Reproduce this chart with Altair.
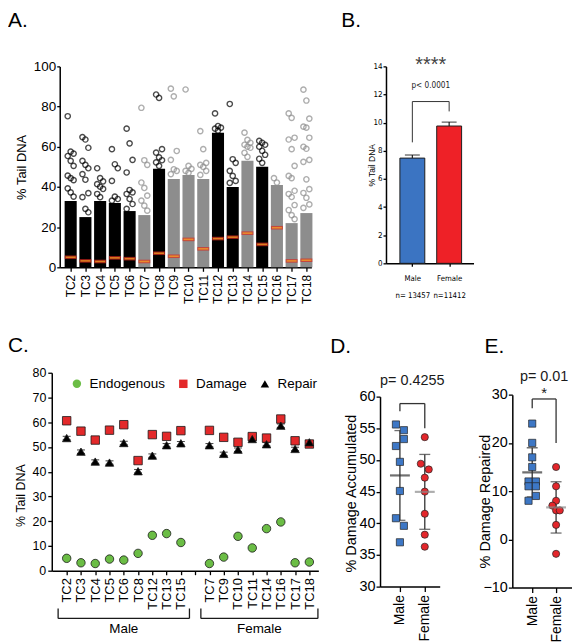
import json
import altair as alt
import pandas as pd

FONT = "Liberation Sans, Arial, sans-serif"
NARROW = "Liberation Sans Narrow, Arial Narrow, DejaVu Sans Condensed, Liberation Sans, sans-serif"

# ---------------- data ----------------
tc_names = ["TC2", "TC3", "TC4", "TC5", "TC6", "TC7", "TC8", "TC9", "TC10",
            "TC11", "TC12", "TC13", "TC14", "TC15", "TC16", "TC17", "TC18"]
tc_sex = ["Male", "Male", "Male", "Male", "Male", "Female", "Male", "Female", "Female",
          "Female", "Male", "Male", "Female", "Male", "Female", "Female", "Female"]
# upper edge of the dense (solid) cloud of comet scores per animal
tc_core = [33, 25, 33, 32, 28, 26, 49, 44, 46, 44, 67, 40, 53, 50, 41, 22, 27]
# individual scores visible above the dense cloud
tc_sparse = {
    "TC2": [75.2, 57.6, 56.6, 55.4, 53, 50.5, 45.6, 44.4, 43.4, 39.3, 37.3, 35.2],
    "TC3": [64.8, 63.6, 59.5, 53, 51, 49.3, 46.4, 43.6, 36.9, 34.9, 29.1, 27.4],
    "TC4": [49.3, 44.4, 42.8, 41.4, 40.1, 39, 36.5, 34.9],
    "TC5": [58.8, 51.3, 49.3, 43, 35.2, 34, 33.2],
    "TC6": [69, 61.7, 53.5, 47.2, 38.5, 37.3, 36.5, 34, 31.5, 29.1],
    "TC7": [79.4, 53.3, 51, 42.2, 39.5, 35.7, 33.2, 30.7, 28.2],
    "TC8": [86, 84.3, 58.8, 57.1, 54.7, 53.3, 52.2, 50.5],
    "TC9": [88.9, 85.1, 57.9, 53.5, 48.8, 48, 46.4],
    "TC10": [88.5, 50.5, 49, 48, 47],
    "TC11": [67.8, 58.8, 52, 51, 50, 48, 46],
    "TC12": [76.6, 70.3, 69.5, 69, 68],
    "TC13": [81.3, 53.8, 52, 48, 45.5, 43, 42],
    "TC14": [67, 63.4, 62, 61, 60, 59.5, 57, 55],
    "TC15": [62.9, 62, 61, 60, 58, 56, 54, 52],
    "TC16": [44.4, 42.2],
    "TC17": [76.6, 74.4, 64.5, 63.6, 58.8, 50.5, 45.5, 44.4, 38.1, 36.5, 35, 31, 28.5, 26, 24],
    "TC18": [88.4, 83, 74, 70, 69.5, 64.5, 60, 59, 53.5, 52.5, 43.8, 38.9, 37, 34.6, 31.3, 29.6],
}

male_tc = ["TC2", "TC3", "TC4", "TC5", "TC6", "TC8", "TC12", "TC13", "TC15"]
female_tc = ["TC7", "TC9", "TC10", "TC11", "TC14", "TC16", "TC17", "TC18"]
endo_m = [5.0, 3.2, 2.9, 4.7, 4.3, 7.0, 14.3, 15.0, 11.4]
dmg_m = [60.6, 56.4, 52.8, 56.8, 59.0, 44.5, 55.0, 54.3, 56.6]
rep_m = [53.6, 48.1, 44.1, 43.7, 51.6, 40.2, 46.5, 50.7, 51.5]
rep_err_m = [0.7, 0.7, 0.7, 0.7, 0.7, 0.7, 0.7, 0.7, 0.7]
endo_f = [2.9, 5.5, 13.9, 9.2, 17.0, 19.7, 3.2, 3.5]
dmg_f = [56.7, 53.9, 51.9, 54.2, 53.6, 61.3, 52.5, 51.2]
rep_f = [50.7, 47.2, 48.9, 53.2, 51.1, 58.6, 49.2, 51.9]
rep_err_f = [0.7, 0.7, 0.7, 0.7, 0.7, 0.7, 0.7, 0.7]
series = ["Endogenous", "Damage", "Repair"]

b_groups = ["Male", "Female"]
b_n = ["n= 13457", "n=11412"]
b_mean = [7.48, 9.76]
b_err = [0.22, 0.28]
b_bracket = [8.6, 11.5, 10.8]   # left foot, top, right foot
b_p = "p< 0.0001"
b_stars = "****"

acc_m = [55.6, 54.7, 53.3, 52.2, 49.7, 45.1, 40.8, 39.6, 37.0]
acc_m_j = [-1, 1, 1, -1, 0, 0, -1, 1, 0]
acc_f = [53.6, 49.4, 48.5, 47.2, 45.0, 41.5, 38.2, 36.3]
acc_f_j = [0, -1, 1, 0, 0, 0, 0, 0]
d_bracket = [57.7, 58.9, 55.0]
d_p = "p= 0.4255"

rpd_m = [24, 20, 17, 15, 12, 12, 11, 11, 9, 8]
rpd_m_j = [0, 0, 0, 0, -1, 1, -1, 1, 1, -1]
rpd_f = [15, 11, 8, 7, 6, 6, 3, -3]
rpd_f_j = [0, 0, 0, -1, 0, 1, 0, 0]
e_bracket = [27.2, 29.1, 20.0]
e_p = "p= 0.01"
e_star = "*"

# ---------------- helpers ----------------
def letter(t, x, y):
    return alt.Chart(pd.DataFrame({"t": [t]})).mark_text(
        align="left", baseline="top", font=FONT, fontSize=21, color="black"
    ).encode(text="t:N", x=alt.value(x), y=alt.value(y))


def bracket_df(x0, x1, feet):
    lb, top, rb = feet
    return pd.DataFrame({"x": [x0, x0, x1], "x2": [x0, x1, x1],
                         "y": [lb, top, top], "y2": [top, top, rb]})


# ---------------- panel A ----------------
endo_by = dict(zip(male_tc + female_tc, endo_m + endo_f))
sex_col_a = {"Male": "#000000", "Female": "#8d8d8d"}
df_a = pd.DataFrame({"idx": list(range(len(tc_names))), "name": tc_names, "sex": tc_sex,
                     "core": tc_core, "mean": [endo_by[n] for n in tc_names]})
df_a["lo"] = df_a["idx"] - 0.41
df_a["hi"] = df_a["idx"] + 0.41
df_a["col"] = df_a["sex"].map(sex_col_a)
rows = []
for i, n in enumerate(tc_names):
    for k, v in enumerate(tc_sparse[n]):
        rows.append({"x": i + ((k % 3) - 1) * 0.2, "v": v, "col": sex_col_a[tc_sex[i]]})
df_ap = pd.DataFrame(rows)

xA = alt.Scale(domain=[-0.743, 16.34], range=[8, 261], nice=False, zero=False)
yA = alt.Scale(domain=[0, 100], nice=False)
axAx = alt.Axis(values=list(range(len(tc_names))), labelExpr=json.dumps(tc_names) + "[datum.value]",
                labelAngle=270, labelFontSize=12, labelPadding=3, tickSize=4, title=None)
axAy = alt.Axis(values=[0, 20, 40, 60, 80, 100], labelFontSize=13.5, tickSize=3, labelPadding=1,
                offset=-8, title="% Tail DNA", titleFontSize=13, titleX=-31)

a_bars = alt.Chart(df_a).mark_rect().encode(
    x=alt.X("lo:Q", scale=xA, axis=axAx), x2="hi:Q",
    y=alt.Y("core:Q", scale=yA, axis=axAy), y2=alt.datum(0),
    fill=alt.Fill("col:N", scale=None))
a_pts = alt.Chart(df_ap).mark_point(shape="circle", filled=False, size=28, strokeWidth=1.4).encode(
    x=alt.X("x:Q", scale=xA, axis=axAx), y=alt.Y("v:Q", scale=yA, axis=axAy),
    stroke=alt.Stroke("col:N", scale=None))
a_mr = alt.Chart(df_a).mark_tick(orient="horizontal", size=12, thickness=3.6, color="#d8281e").encode(
    x=alt.X("idx:Q", scale=xA, axis=axAx), y=alt.Y("mean:Q", scale=yA, axis=axAy))
a_mo = alt.Chart(df_a).mark_tick(orient="horizontal", size=10, thickness=1.6, color="#f9a825").encode(
    x=alt.X("idx:Q", scale=xA, axis=axAx), y=alt.Y("mean:Q", scale=yA, axis=axAy))
A = alt.layer(a_bars, a_pts, a_mr, a_mo, letter("A.", -44, -56.5)).properties(width=261, height=202)

# ---------------- panel B ----------------
b_cols = {"Male": "#3b74c2", "Female": "#ee2127"}
df_b = pd.DataFrame({"i": [0, 1], "g": b_groups, "m": b_mean, "e": b_err})
df_b["lo"] = df_b["i"] - 0.338
df_b["hi"] = df_b["i"] + 0.338
df_b["top"] = df_b["m"] + df_b["e"]
df_b["col"] = df_b["g"].map(b_cols)
xB = alt.Scale(domain=[-0.716, 1.662], range=[6, 94], nice=False, zero=False)
yB = alt.Scale(domain=[0, 14], nice=False)
axBx = alt.Axis(values=[0, 1],
                labelExpr="[" + json.dumps(b_groups) + "[datum.value], " + json.dumps(b_n) + "[datum.value]]",
                labelFont=NARROW, labelFontSize=7.8, labelLineHeight=17, labelPadding=8, tickSize=3,
                labelAngle=0, title=None)
axBy = alt.Axis(values=list(range(0, 15, 2)), labelFont=NARROW, labelFontSize=8, tickSize=3,
                labelPadding=1, offset=-6, title="% Tail DNA", titleFontSize=8.5, titleX=-10)
b_mid = (df_b["i"].iloc[0] + df_b["i"].iloc[1]) / 2

b_bars = alt.Chart(df_b).mark_rect(stroke="#1e1e1e", strokeWidth=1).encode(
    x=alt.X("lo:Q", scale=xB, axis=axBx), x2="hi:Q",
    y=alt.Y("m:Q", scale=yB, axis=axBy), y2=alt.datum(0), fill=alt.Fill("col:N", scale=None))
b_err = alt.Chart(df_b).mark_rule(color="#1e1e1e", strokeWidth=1.2).encode(
    x=alt.X("i:Q", scale=xB, axis=axBx), y=alt.Y("m:Q", scale=yB, axis=axBy), y2="top:Q")
b_cap = alt.Chart(df_b).mark_tick(orient="horizontal", size=15, thickness=1.3, color="#1e1e1e").encode(
    x=alt.X("i:Q", scale=xB, axis=axBx), y=alt.Y("top:Q", scale=yB, axis=axBy))
b_br = alt.Chart(bracket_df(0, 1, b_bracket)).mark_rule(color="#333333", strokeWidth=1).encode(
    x=alt.X("x:Q", scale=xB, axis=axBx), x2="x2:Q", y=alt.Y("y:Q", scale=yB, axis=axBy), y2="y2:Q")
b_txt = alt.Chart(pd.DataFrame({"x": [b_mid], "y": [12.6], "t": [b_p]})).mark_text(
    font=NARROW, fontSize=8.2, baseline="middle", color="#222").encode(
    x=alt.X("x:Q", scale=xB, axis=axBx), y=alt.Y("y:Q", scale=yB, axis=axBy), text="t:N")
b_st = alt.Chart(pd.DataFrame({"x": [b_mid], "y": [14.1], "t": [b_stars]})).mark_text(
    font=FONT, fontSize=20, baseline="middle", color="#444").encode(
    x=alt.X("x:Q", scale=xB, axis=axBx), y=alt.Y("y:Q", scale=yB, axis=axBy), text="t:N")
B = alt.layer(b_bars, b_err, b_cap, b_br, b_txt, b_st, letter("B.", -39, -56.5)).properties(width=71, height=198)

# ---------------- panel C ----------------
c_idx = list(range(len(male_tc))) + [len(male_tc) + 1 + i for i in range(len(female_tc))]
c_tick_labels = male_tc + [""] + female_tc
rows = []
for vals, s in ((endo_m + endo_f, "Endogenous"), (dmg_m + dmg_f, "Damage"), (rep_m + rep_f, "Repair")):
    for x, v in zip(c_idx, vals):
        rows.append({"x": x, "v": v, "s": s})
df_c = pd.DataFrame(rows)
df_ce = pd.DataFrame({"x": c_idx, "r": rep_m + rep_f, "e": rep_err_m + rep_err_f})
df_ce["lo"] = df_ce["r"] - df_ce["e"]
df_ce["hi"] = df_ce["r"] + df_ce["e"]

xC = alt.Scale(domain=[-1.045, 17.63], nice=False, zero=False)
yC = alt.Scale(domain=[0, 80], nice=False)
axCx = alt.Axis(values=list(range(len(c_tick_labels))), labelExpr=json.dumps(c_tick_labels) + "[datum.value]",
                labelAngle=270, labelFontSize=13, labelPadding=3, tickSize=4, title=None)
axCy = alt.Axis(values=list(range(0, 81, 10)), labelFontSize=12.5, tickSize=4, labelPadding=2,
                title="% Tail DNA", titleFontSize=12.5, titleX=-24, titleY=123)
c_legend = alt.Legend(orient="none", legendX=18.5, legendY=4, direction="horizontal",
                      title=None, labelFontSize=13.5, labelFont=FONT, symbolSize=72,
                      symbolStrokeColor="#1a1a1a", symbolStrokeWidth=0.8,
                      labelOffset=6, columnPadding=11, padding=0)

c_caps_lo = alt.Chart(df_ce).mark_tick(orient="horizontal", size=8, thickness=1.1, color="black").encode(
    x=alt.X("x:Q", scale=xC, axis=axCx), y=alt.Y("lo:Q", scale=yC, axis=axCy))
c_caps_hi = alt.Chart(df_ce).mark_tick(orient="horizontal", size=8, thickness=1.1, color="black").encode(
    x=alt.X("x:Q", scale=xC, axis=axCx), y=alt.Y("hi:Q", scale=yC, axis=axCy))
c_pts = alt.Chart(df_c).mark_point(filled=True, size=72, stroke="#1a1a1a", strokeWidth=0.8, opacity=1).encode(
    x=alt.X("x:Q", scale=xC, axis=axCx), y=alt.Y("v:Q", scale=yC, axis=axCy),
    fill=alt.Fill("s:N", scale=alt.Scale(domain=series, range=["#6bbd45", "#e3292a", "#000000"]),
                  legend=c_legend),
    shape=alt.Shape("s:N", scale=alt.Scale(domain=series, range=["circle", "square", "triangle-up"]),
                    legend=c_legend))
grp_df = pd.DataFrame({"g": ["Male", "Female"],
                       "x": [c_idx[0] - 0.6, c_idx[len(male_tc)] - 0.6],
                       "x2": [c_idx[len(male_tc) - 1] + 0.6, c_idx[-1] + 0.6]})
grp_df["cx"] = (grp_df["x"] + grp_df["x2"]) / 2
c_brh = alt.Chart(grp_df).mark_rule(color="#1a1a1a", strokeWidth=1.3).encode(
    x=alt.X("x:Q", scale=xC, axis=axCx), x2="x2:Q", y=alt.value(247))
c_brl = alt.Chart(grp_df).mark_rule(color="#1a1a1a", strokeWidth=1.3).encode(
    x=alt.X("x:Q", scale=xC, axis=axCx), y=alt.value(237), y2=alt.value(247))
c_brr = alt.Chart(grp_df).mark_rule(color="#1a1a1a", strokeWidth=1.3).encode(
    x=alt.X("x2:Q", scale=xC, axis=axCx), y=alt.value(237), y2=alt.value(247))
c_grt = alt.Chart(grp_df).mark_text(font=FONT, fontSize=13.5, baseline="middle", color="black").encode(
    x=alt.X("cx:Q", scale=xC, axis=axCx), y=alt.value(258), text="g:N")
C = alt.layer(c_caps_lo, c_caps_hi, c_pts, c_brh, c_brl, c_brr, c_grt,
              letter("C.", -44, -37.5)).properties(width=268, height=199)


# ---------------- panels D and E ----------------
def dot_panel(mv, mj, fv, fj, ydom, yvals, H, top, W, xdom, ytitle, tx, ty, feet, ptxt, p_y,
              star_y, let, let_x, jit):
    groups = ["Male", "Female"]
    fills = {"Male": "#3d77c5", "Female": "#e3262b"}
    shapes = {"Male": "square", "Female": "circle"}
    mcol = {"Male": "#333333", "Female": "#8a8a8a"}
    df = pd.DataFrame({"g": ["Male"] * len(mv) + ["Female"] * len(fv), "v": mv + fv, "j": mj + fj})
    df["grp"] = df["g"].map({"Male": 0, "Female": 1})
    df["x"] = df["grp"] + df["j"] * jit
    df["fill"] = df["g"].map(fills)
    df["shp"] = df["g"].map(shapes)
    df["mc"] = df["g"].map(mcol)
    xs = alt.Scale(domain=xdom, range=[0, 60], nice=False, zero=False)
    ys = alt.Scale(domain=ydom, range=[H, top], nice=False, zero=False)
    axx = alt.Axis(values=[0, 1], labelExpr=json.dumps(groups) + "[datum.value]", labelAngle=270,
                   labelFontSize=14, labelPadding=3, tickSize=5, title=None)
    axy = alt.Axis(values=yvals, labelFontSize=14.5, tickSize=4, labelPadding=1, title=ytitle,
                   titleFontSize=14.5, titleX=tx, titleY=ty)
    base = alt.Chart(df)
    agg = base.transform_aggregate(mu="mean(v)", sd="stdev(v)", groupby=["grp", "mc"]).transform_calculate(
        lo="datum.mu - datum.sd", hi="datum.mu + datum.sd")
    sd_rule = agg.mark_rule(color="#333333", strokeWidth=1.3).encode(
        x=alt.X("grp:Q", scale=xs, axis=axx), y=alt.Y("lo:Q", scale=ys, axis=axy), y2="hi:Q")
    sd_lo = agg.mark_tick(orient="horizontal", size=11, thickness=1.3, color="#333333").encode(
        x=alt.X("grp:Q", scale=xs, axis=axx), y=alt.Y("lo:Q", scale=ys, axis=axy))
    sd_hi = agg.mark_tick(orient="horizontal", size=11, thickness=1.3, color="#333333").encode(
        x=alt.X("grp:Q", scale=xs, axis=axx), y=alt.Y("hi:Q", scale=ys, axis=axy))
    pts = base.mark_point(filled=True, size=52, stroke="#222222", strokeWidth=0.7, opacity=1).encode(
        x=alt.X("x:Q", scale=xs, axis=axx), y=alt.Y("v:Q", scale=ys, axis=axy),
        fill=alt.Fill("fill:N", scale=None), shape=alt.Shape("shp:N", scale=None))
    mline = agg.mark_tick(orient="horizontal", size=20, thickness=2.2).encode(
        x=alt.X("grp:Q", scale=xs, axis=axx), y=alt.Y("mu:Q", scale=ys, axis=axy),
        color=alt.Color("mc:N", scale=None))
    br = alt.Chart(bracket_df(0, 1, feet)).mark_rule(color="#333333", strokeWidth=1.3).encode(
        x=alt.X("x:Q", scale=xs, axis=axx), x2="x2:Q", y=alt.Y("y:Q", scale=ys, axis=axy), y2="y2:Q")
    layers = [sd_rule, sd_lo, sd_hi, pts, mline, br]
    layers.append(alt.Chart(pd.DataFrame({"x": [0.5], "y": [p_y], "t": [ptxt]})).mark_text(
        font=FONT, fontSize=14.5, baseline="middle", color="#1a1a1a").encode(
        x=alt.X("x:Q", scale=xs, axis=axx), y=alt.Y("y:Q", scale=ys, axis=axy), text="t:N"))
    if star_y is not None:
        layers.append(alt.Chart(pd.DataFrame({"x": [0.5], "y": [star_y[0]], "t": [star_y[1]]})).mark_text(
            font=FONT, fontSize=15, baseline="middle", color="#1a1a1a").encode(
            x=alt.X("x:Q", scale=xs, axis=axx), y=alt.Y("y:Q", scale=ys, axis=axy), text="t:N"))
    layers.append(letter(let, let_x, -36.5))
    return alt.layer(*layers).properties(width=W, height=H)


D = dot_panel(acc_m, acc_m_j, acc_f, acc_f_j, [30, 60], [30, 35, 40, 45, 50, 55, 60], 215, 24, 71,
              [-0.8, 1.6], "% Damage Accumulated", -22, 121, d_bracket, d_p, 62.4, None, "D.", -50, 0.16)
E = dot_panel(rpd_m, rpd_m_j, rpd_f, rpd_f_j, [-10, 30], [-10, 0, 10, 20, 30], 216, 22, 60,
              [-0.8333, 1.6667], "% Damage Repaired", -20, 129, e_bracket, e_p, 33.7, (30.3, e_star),
              "E.", -28, 0.155)

blank = alt.Chart(pd.DataFrame({"a": [0]})).mark_point(opacity=0).encode(
    x=alt.value(0), y=alt.value(0)).properties(width=1, height=1)

chart = alt.concat(A, B, blank, C, D, E, columns=3, spacing={"row": 106, "column": 62},
                   bounds="flush", align="each").resolve_scale(
    fill="independent", shape="independent", color="independent", stroke="independent").resolve_legend(
    fill="independent", shape="independent").properties(padding=0).configure_view(
    strokeWidth=0).configure_axis(
    domainColor="black", domainWidth=1.5, tickColor="black", tickWidth=1.3, labelColor="black",
    titleColor="black", titleFontWeight="normal", labelFont=FONT, titleFont=FONT, grid=False)

chart.save("out.html", embed_options={"renderer": "svg", "actions": False})
